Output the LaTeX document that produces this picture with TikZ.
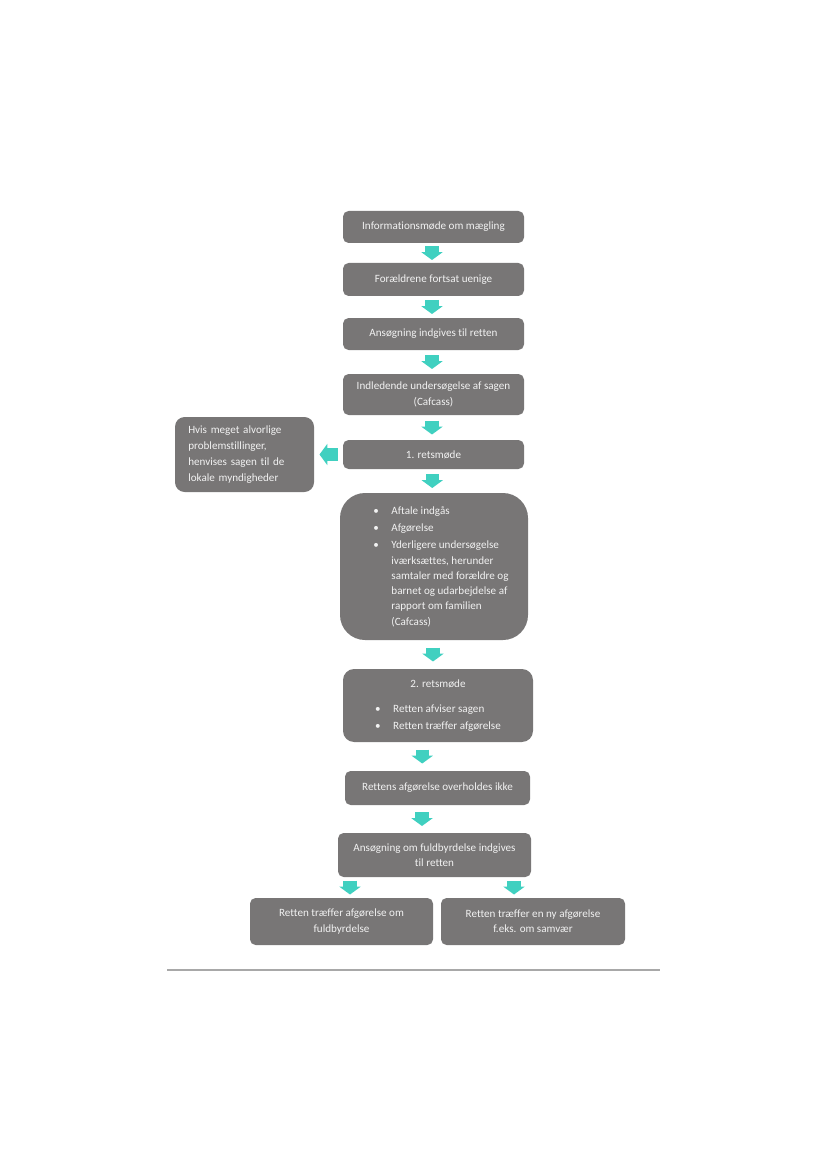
\documentclass[tikz,border=0pt]{standalone}
\usepackage{fontspec}
\setmainfont{Carlito}[Ligatures={NoCommon}]
\usetikzlibrary{arrows.meta,calc}
\definecolor{boxgray}{HTML}{787676}
\definecolor{flowteal}{HTML}{40D0C0}
\definecolor{rulegray}{HTML}{A8A8A8}
\tikzset{
    box/.style={rectangle,rounded corners=4pt,fill=boxgray,text=white!95!black,
        font=\fontsize{8}{11}\selectfont,align=center,inner sep=2pt},
    boxsize/.style 2 args={minimum width=#1*0.72pt,minimum height=#2*0.72pt},
    flow/.style={flowteal,line width=9.4pt,-{Triangle[width=15pt,length=5.6pt]}},
}
\begin{document}
\begin{tikzpicture}[x=0.72pt,y=-0.72pt]
    \useasboundingbox (0,0) rectangle (827,1170);
    \begin{scope}[every node/.style={box}]
        \node[boxsize={181}{32}] (b1) at (433.5,227) {Informationsmøde om mægling};
        \node[boxsize={181}{33}] (b2) at (433.5,279.5) {Forældrene fortsat uenige};
        \node[boxsize={181}{32}] (b3) at (433.5,334) {Ansøgning indgives til retten};
        \node[boxsize={181}{41}] (b4) at (433.5,394.5) {Indledende undersøgelse af sagen\\(Cafcass)};
        \node[boxsize={181}{29}] (b5) at (433.5,454.5) {1. retsmøde};
        \node[boxsize={139}{75},rounded corners=7pt,align=left,text width=81pt,inner xsep=9.4pt,
            font=\fontsize{8}{11.4}\selectfont]
            (side) at (244.5,454.5) {Hvis meget alvorlige\\problemstillinger,\\henvises sagen til de\\lokale myndigheder};
        \node[boxsize={188}{147},rounded corners=18pt] (b6) at (434,566.5) {\hspace*{10pt}%
            \begin{tabular}{@{}c@{\hspace{9pt}}l@{}}
                \textbullet & Aftale indgås\\[1.5pt]
                \textbullet & Afgørelse\\[1.5pt]
                \textbullet & Yderligere undersøgelse\\
                & iværksættes, herunder\\
                & samtaler med forældre og\\
                & barnet og udarbejdelse af\\
                & rapport om familien\\
                & (Cafcass)
            \end{tabular}};
        \node[boxsize={190}{73},rounded corners=8pt] (b7) at (438,705.5) {%
            \begin{tabular}{@{}c@{\hspace{9pt}}l@{}}
                \multicolumn{2}{c}{2. retsmøde}\\[7pt]
                \textbullet & Retten afviser sagen\\[1.5pt]
                \textbullet & Retten træffer afgørelse
            \end{tabular}};
        \node[boxsize={185}{34}] (b8) at (437.5,788) {Rettens afgørelse overholdes ikke};
        \node[boxsize={193}{44}] (b9) at (434.5,855) {Ansøgning om fuldbyrdelse indgives\\til retten};
        \node[boxsize={183}{47}] (b10) at (341.5,921.5) {Retten træffer afgørelse om\\fuldbyrdelse};
        \node[boxsize={184}{47}] (b11) at (533,921.5) {Retten træffer en ny afgørelse\\f.eks. om samvær};
    \end{scope}
    \begin{scope}[flow]
        \draw ($(b1.south)!.5!(b2.north)+(-1.5,-7)$) -- +(0,14);
        \draw ($(b2.south)!.5!(b3.north)+(-1.5,-7)$) -- +(0,14);
        \draw ($(b3.south)!.5!(b4.north)+(-1.5,-7)$) -- +(0,14);
        \draw ($(b4.south)!.5!(b5.north)+(-1.5,-7)$) -- +(0,14);
        \draw ($(b5.south)!.5!(b6.north)+(-1.5,-7)$) -- +(0,14);
        \draw ($(b5.west)!.5!(side.east)+(9,0)$) -- +(-18,0);
        \draw ($(b6.south)!.5!(b7.north)+(-3,-7)$) -- +(0,14);
        \draw ($(b7.south)!.5!(b8.north)+(-15.5,-7)$) -- +(0,14);
        \draw ($(b8.south)!.5!(b9.north)+(-14,-7)$) -- +(0,14);
        \draw ($(b10.north |- b9.south)!.5!(b10.north)+(8.5,-7)$) -- +(0,14);
        \draw ($(b11.north |- b9.south)!.5!(b11.north)+(-19,-7)$) -- +(0,14);
    \end{scope}
    % rule under the chart
    \draw[rulegray,line width=1.2pt] (167,970) -- (660,970);
\end{tikzpicture}
\end{document}
